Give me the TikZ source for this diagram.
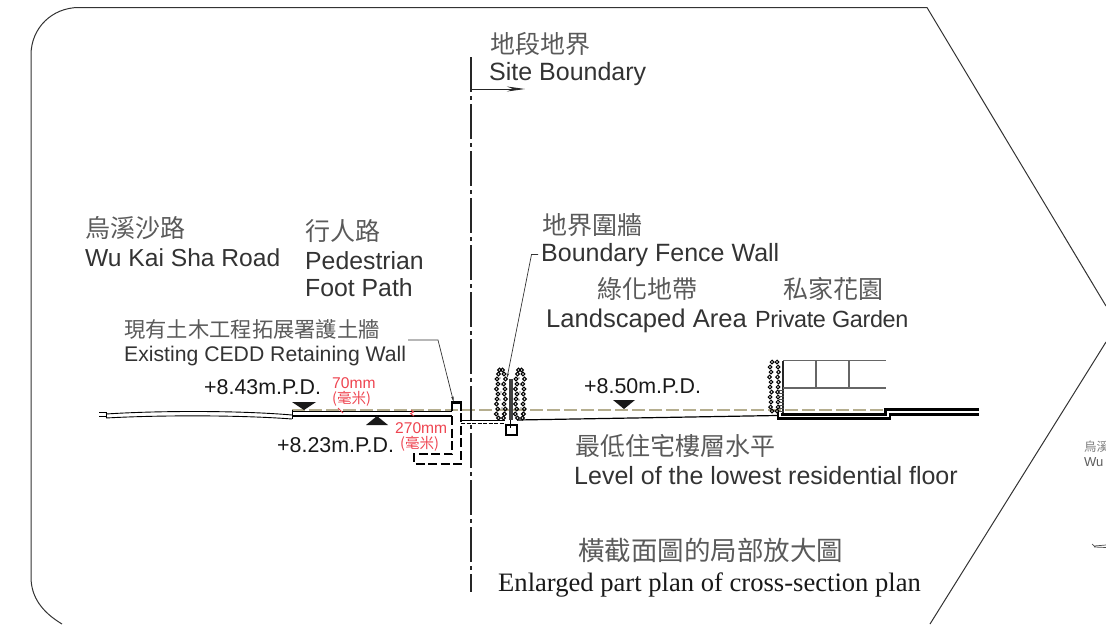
\documentclass[tikz,border=0pt]{standalone}
\usepackage{fontspec}
\setmainfont{Liberation Sans}
\newfontfamily\cjk{Noto Sans CJK TC}
\newfontfamily\serifen{Liberation Serif}
\usetikzlibrary{arrows.meta}
\definecolor{ink}{HTML}{333333}
\definecolor{inkz}{HTML}{5A5A5A}
\definecolor{levelc}{HTML}{B5AE8F}
\definecolor{redc}{HTML}{EE4450}
\tikzset{
  txt/.style={anchor=base west,inner sep=0pt,text=ink},
  en/.style={txt,font=\fontsize{25}{25}\selectfont},
  enm/.style={txt,font=\fontsize{21.2}{21.2}\selectfont},
  lvl/.style={txt,text=black!90,font=\fontsize{21.4}{21.4}\selectfont},
  zh/.style={txt,text=inkz,font=\cjk\fontsize{25}{25}\selectfont},
  zhm/.style={txt,text=inkz,font=\cjk\fontsize{21.3}{21.3}\selectfont},
  redt/.style={txt,text=redc,font=\fontsize{15.6}{15.6}\selectfont},
  redz/.style={txt,text=redc,font=\cjk\fontsize{14.5}{14.5}\selectfont},
  small/.style={txt,text=ink!80,font=\fontsize{13}{13}\selectfont},
  smallz/.style={txt,text=inkz!80,font=\cjk\fontsize{12.5}{12.5}\selectfont},
  frame/.style={draw=black!80,line width=1pt},
  thinl/.style={draw=black,line width=.9pt},
  heavy/.style={draw=black,line width=2.1pt},
  wall/.style={draw=black,line width=2.1pt,dash pattern=on 9pt off 3.5pt},
  level/.style={draw=levelc,line width=1.2pt,dash pattern=on 13pt off 4pt},
  bound/.style={draw=black!85,line width=2.5pt,dash pattern=on 35pt off 4pt on 4pt off 4pt},
  leaderl/.style={draw=black!80,line width=.7pt,-{Stealth[length=5pt,width=2.5pt]}},
  grayl/.style={draw=black!60,line width=1.1pt},
  tri/.style={fill=black!90},
  lobe/.style={draw=black,line width=1.1pt},
  redl/.style={draw=redc,line width=.9pt}
}
\newcommand{\treecol}[3]{% x-left, x-right, y-top
  \draw[lobe] ({(#1+#2)/2-1.5},#3) circle (1.9) ({(#1+#2)/2+1.5},#3) circle (1.9);
  \foreach \yy/\dl/\dr in {4/1.5/-1,9/0/0.5,14/1/-1.2,19/-0.5/0,24/1/-0.8,29/0/0.5,34/-0.5/-1,39/0.8/0.2,44/-0.7/-0.6,48/1.5/-1.5}{
    \draw[lobe] ({#1+\dl},{#3+\yy}) circle (1.9);
    \draw[lobe] ({#2+\dr},{#3+\yy}) circle (1.9);
  }
  \foreach \yy/\dx in {8/-1,15/1,22/0,30/-1,38/1}{
    \fill[black] ({(#1+#2)/2+\dx},{#3+\yy}) circle (.6);
  }
}
\begin{document}
\begin{tikzpicture}[x=1pt,y=-1pt]
\useasboundingbox (0,0) rectangle (1106,624);
\begin{scope}
\clip (0,0) rectangle (1106,624);
% outer frame
\draw[frame] (62,624) .. controls (42,612) and (31,597) .. (31,577)
  -- (31,55) .. controls (31,28) and (52,7.5) .. (79,7.5) -- (927,7.5) -- (1106,306);
\draw[frame] (1106,342) -- (930,624);
% level line
\draw[level] (292,410) -- (885,410);
% site boundary
\coordinate (bt) at (471,57); \coordinate (bb) at (471,592);
\draw[bound] (bt) -- (bb);
\coordinate (bao) at (471,89); \coordinate (bar) at (525,89);
\draw[draw=black!85,line width=.9pt,-{Stealth[length=18pt,width=5pt]}] (bao) -- (bar);
% road
\draw[thinl] (99,412) -- (106,412) (99,416) -- (106,416);
\draw[thinl] (106,412) -- (106,418);
\draw[thinl] (106,414) .. controls (160,410.5) and (240,410.5) .. (292,415);
\draw[thinl] (106,418) .. controls (160,415) and (240,415) .. (292,419);
\draw[thinl] (292,410) -- (292,419);
% footpath
\draw[thinl] (292,411) -- (452,411);
\draw[thinl,line width=1.6pt] (292,416) -- (452,416);
% retaining wall
\draw[heavy] (452,411) -- (452,402.5) -- (461,402.5) -- (461,411);
\draw[wall] (452,416) -- (452,454) -- (414,454) -- (414,464) -- (461,464) -- (461,411);
% triangles
\fill[tri] (292,402) -- (316,402) -- (304,410) -- cycle;
\fill[tri] (366,425) -- (388,425) -- (377,416) -- cycle;
\fill[tri] (613,400) -- (635,400) -- (624,409) -- cycle;
% red ticks
\draw[redl] (338,408) -- (343,413);
\draw[redl] (411,410) -- (413.5,412) -- (410.5,413.5) -- (414,416);
% paving
\draw[black,line width=1.4pt] (461,420.5) -- (505,420.5);
\draw[black,line width=1pt,dash pattern=on 4pt off 1.5pt] (461,423) -- (505,423);
% fence + trees
\treecol{497}{505}{370}
\treecol{516}{524}{370}
\fill[black!75] (508.5,379) rectangle (513,420);
\draw[black,line width=2pt] (505.5,424.5) rectangle (516.5,434.5);
\draw[black,line width=1.2pt] (510.5,420) -- (510.5,428);
% ground
\draw[black,line width=1.2pt] (517,420) -- (777,415.5);
% building
\foreach \yy/\dl/\dr in {362/1/-1,367/-1/0,372/0/0.5,377/-1.5/-0.5,382/0/0.5,387/-1/0,392/0.5/-0.5,397/-1/0,402/0/0,407/-0.5/0,411/1/-1}{
  \draw[black,line width=1pt] ({771+\dl},\yy) circle (1.8) ({778+\dr},\yy) circle (1.8);
}
\draw[black!85,line width=1.6pt] (783,361) -- (783,413);
\foreach \yy in {390,393,...,411}{\draw[black!70,line width=.6pt] (779,\yy) -- (784,\yy);}
\draw[grayl] (783,360.5) -- (886,360.5);
\draw[grayl] (783,388) -- (886,388);
\draw[grayl] (816,360.5) -- (816,388);
\draw[grayl] (849,360.5) -- (849,388);
\draw[heavy] (778,412) -- (778,418.5) -- (890,418.5) -- (890,414.5) -- (979,414.5);
\draw[heavy] (781,414.5) -- (885.5,414.5) -- (885.5,409.5) -- (979,409.5);
% part of the next drawing
\draw[black!70,line width=.7pt] (1092,544) -- (1094,546) -- (1106,545) (1094,547) -- (1106,547.5);
% texts cut by the page edge
\node[smallz] (tsm) at (1084,451) {烏溪};
\node[small] (esm) at (1084,466) {Wu};
\end{scope}
% texts
\node[zh] (tsb) at (490,53) {地段地界};
\node[en] (esb) at (489,80) {Site Boundary};
\node[zh] (trd) at (85,237) {烏溪沙路};
\node[en,font=\fontsize{24.6}{24.6}\selectfont] (erd) at (85,266) {Wu Kai Sha Road};
\node[zh] (tfp) at (305,240) {行人路};
\node[en,font=\fontsize{24.8}{24.8}\selectfont] (efp) at (305,269) {Pedestrian};
\node[en,font=\fontsize{24.8}{24.8}\selectfont] (efp2) at (305,296) {Foot Path};
\node[zhm] (trw) at (124,337) {現有土木工程拓展署護土牆};
\node[enm] (erw) at (124,361) {Existing CEDD Retaining Wall};
\node[lvl] (l1) at (204,394) {+8.43m.P.D.};
\node[lvl] (l2) at (277,452) {+8.23m.P.D.};
\node[lvl] (l3) at (584,393) {+8.50m.P.D.};
\node[redt] (r1) at (332,388) {70mm};
\node[redz] (r1z) at (332,403) {(毫米)};
\node[redt] (r2) at (395,433) {270mm};
\node[redz] (r2z) at (400,448) {(毫米)};
\node[zh] (tbf) at (542,234) {地界圍牆};
\node[en] (ebf) at (541,261) {Boundary Fence Wall};
\node[zh] (tla) at (597,298) {綠化地帶};
\node[en,font=\fontsize{25.6}{25.6}\selectfont] (ela) at (546,327) {Landscaped Area};
\node[zh] (tpg) at (783,298) {私家花園};
\node[en,font=\fontsize{23.4}{23.4}\selectfont] (epg) at (755,327) {\addfontfeature{LetterSpace=-1.5}Private Garden};
\node[zh] (tlr) at (575,455) {最低住宅樓層水平};
\node[en] (elr) at (574,484) {Level of the lowest residential floor};
\node[zh,font=\cjk\fontsize{26.5}{26.5}\selectfont] (tep) at (578,560) {橫截面圖的局部放大圖};
\node[en,text=black!90,font=\serifen\fontsize{26.6}{26.6}\selectfont] (eep) at (498,591) {Enlarged part plan of cross-section plan};
% leaders
\coordinate (rwa) at (408,340); \coordinate (rwb) at (438,340); \coordinate (rwc) at (453.5,401.5);
\draw[leaderl] (rwa) -- (rwb) -- (rwc);
\coordinate (bfa) at (538,254.5); \coordinate (bfb) at (531.5,254.5); \coordinate (bfc) at (507,378);
\draw[leaderl] (bfa) -- (bfb) -- (bfc);
\end{tikzpicture}
\end{document}
